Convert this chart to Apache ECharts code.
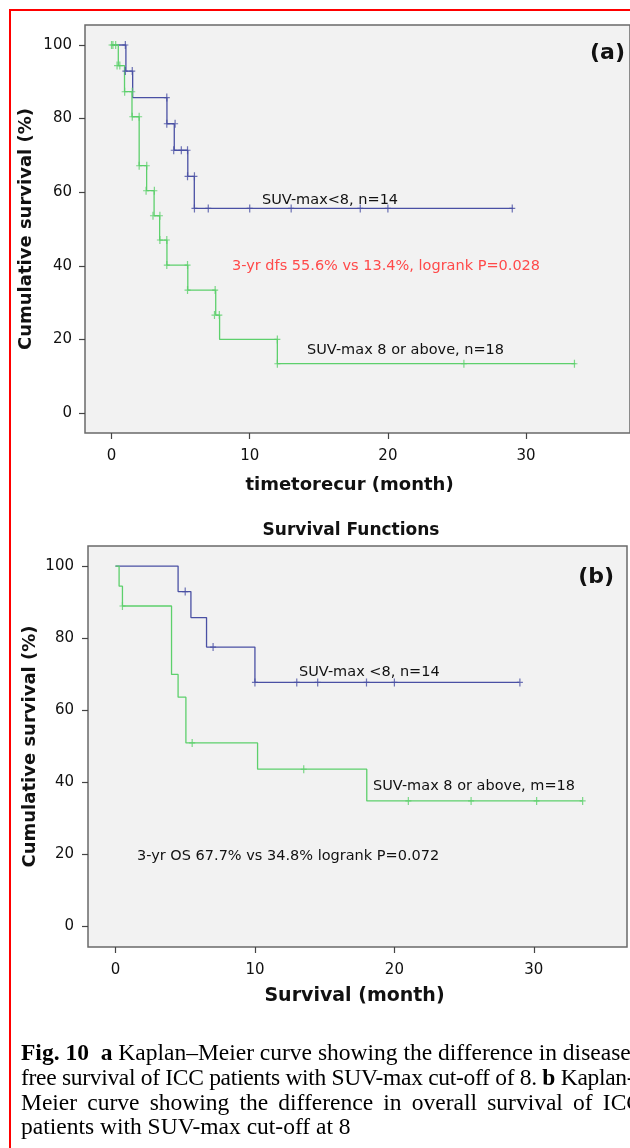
<!DOCTYPE html>
<html>
<head>
<meta charset="utf-8">
<script src="https://cdn.jsdelivr.net/npm/echarts@6/dist/echarts.min.js"></script>
<style>
  html, body { margin: 0; padding: 0; background: #fff; overflow: hidden; }
  #wrap { position: relative; width: 630px; height: 1148px; overflow: hidden; }
  #chart { position: absolute; left: 0; top: 0; width: 630px; height: 1148px; }
  #frame { position: absolute; left: 9px; top: 9px; width: 700px; height: 1200px; border: 2px solid #ff0000; box-sizing: border-box; }
  .cap { position: absolute; left: 21px; width: 621px; font-family: "Liberation Serif", "Times New Roman", serif;
         font-size: 23.5px; line-height: 25px; color: #000; white-space: nowrap; }
  .just { text-align: justify; text-align-last: justify; white-space: normal; height: 25px; overflow: hidden; }
</style>
</head>
<body>
<div id="wrap">
  <div id="frame"></div>
  <div id="chart"></div>
  <div class="cap" style="top:1040px"><b>Fig. 10</b>&nbsp; <b>a</b> Kaplan–Meier curve showing the difference in disease-</div>
  <div class="cap" style="top:1065px; width:680px; letter-spacing:-0.3px">free survival of ICC patients with SUV-max cut-off of 8. <b>b</b> Kaplan-</div>
  <div class="cap just" style="top:1090px">Meier curve showing the difference in overall survival of ICC</div>
  <div class="cap" style="top:1114px">patients with SUV-max cut-off at 8</div>
</div>
<script>
// (a) 无病生存 - SUV-max<8
const dfsLowT = [0, 1.04, 1.53, 4.01, 4.54, 5.52, 5.99, 29.06]
const dfsLowS = [100, 92.9, 85.7, 78.6, 71.4, 64.3, 55.6, 55.6]
const dfsLowCensT = [1.0, 1.0, 1.5, 4.0, 4.0, 4.6, 4.5, 5.05, 5.5, 5.5, 6.0, 6.0, 7.0, 10.0, 13.0, 18.0, 20.0, 29.0]
const dfsLowCensS = [100, 92.9, 92.9, 85.7, 78.6, 78.6, 71.4, 71.4, 71.4, 64.3, 64.3, 55.6, 55.6, 55.6, 55.6, 55.6, 55.6, 55.6]
// (a) SUV-max 8 or above
const dfsHighT = [0, 0.49, 0.94, 1.48, 2.0, 2.54, 3.08, 3.48, 4.01, 5.52, 7.54, 7.82, 12.0, 33.57]
const dfsHighS = [100, 94.4, 87.3, 80.5, 67.2, 60.4, 53.6, 47.0, 40.2, 33.4, 26.6, 20.0, 13.4, 13.4]
const dfsHighCensT = [0, 0.1, 0.3, 0.4, 0.6, 0.95, 1.5, 1.5, 2.0, 2.0, 2.55, 2.5, 3.1, 3.0, 3.5, 3.5, 4.0, 4.0, 5.5, 5.5, 7.5, 7.45, 7.8, 12.0, 12.0, 25.5, 33.5]
const dfsHighCensS = [100, 100, 100, 94.4, 94.4, 87.3, 87.3, 80.5, 80.5, 67.2, 67.2, 60.4, 60.4, 53.6, 53.6, 47.0, 47.0, 40.2, 40.2, 33.4, 33.4, 26.6, 26.6, 20.0, 13.4, 13.4, 13.4]

// (b) 总生存
const osLowT = [0, 4.49, 5.41, 6.53, 10.0, 28.97]
const osLowS = [100, 92.9, 85.7, 77.5, 67.7, 67.7]
const osLowCensT = [5.0, 7.0, 10.0, 13.0, 14.5, 18.0, 20.0, 29.0]
const osLowCensS = [92.9, 77.5, 67.7, 67.7, 67.7, 67.7, 67.7, 67.7]
const osHighT = [0, 0.26, 0.5, 4.02, 4.49, 5.05, 10.19, 18.02, 33.5]
const osHighS = [100, 94.4, 88.9, 69.9, 63.6, 50.9, 43.6, 34.8, 34.8]
const osHighCensT = [0.5, 5.5, 13.5, 21.0, 25.5, 30.2, 33.5]
const osHighCensS = [88.9, 50.9, 43.6, 34.8, 34.8, 34.8, 34.8]

const xTicks = [0, 10, 20, 30]
const yTicks = [0, 20, 40, 60, 80, 100]

const BLUE = '#4a50a4'
const GREEN = '#5dd06c'
const FONT = 'DejaVu Sans'
const PLUS = 'path://M2,0h1v3h2v1h-2v3h-1v-3h-2v-1h2z'

function zip(a, b) {
  return a.map((v, i) => [v, b[i]])
}

function stepSeries(t, s, color, idx) {
  return {
    type: 'line', step: 'end', xAxisIndex: idx, yAxisIndex: idx,
    data: zip(t, s), showSymbol: false, silent: true,
    lineStyle: { color: color, width: 1.3 }
  }
}

function censSeries(t, s, color, idx) {
  return {
    type: 'scatter', xAxisIndex: idx, yAxisIndex: idx,
    data: zip(t, s), symbol: PLUS, symbolSize: [6, 8], silent: true,
    itemStyle: { color: color }, z: 3
  }
}

function xAxisCfg(idx, min, max, name, nameSize, nameGap, pad) {
  return {
    type: 'value', gridIndex: idx, min: min, max: max,
    name: name, nameLocation: 'middle', nameGap: nameGap, nameMoveOverlap: false,
    nameTextStyle: { fontFamily: FONT, fontWeight: 'bold', fontSize: nameSize, color: '#111', padding: pad },
    axisLine: { show: false, onZero: false },
    axisTick: { show: true, inside: false, length: 6, customValues: xTicks, lineStyle: { color: '#444', width: 1.2 } },
    axisLabel: { customValues: xTicks, margin: 16, fontFamily: FONT, fontSize: 15, color: '#111' },
    splitLine: { show: false }
  }
}

function yAxisCfg(idx, min, max, margin, gap) {
  return {
    type: 'value', gridIndex: idx, min: min, max: max,
    name: 'Cumulative survival (%)', nameLocation: 'middle', nameGap: gap, nameMoveOverlap: false,
    nameTextStyle: { fontFamily: FONT, fontWeight: 'bold', fontSize: 18, color: '#111' },
    axisLine: { show: false, onZero: false },
    axisTick: { show: true, inside: false, length: 6, customValues: yTicks, lineStyle: { color: '#444', width: 1.2 } },
    axisLabel: { customValues: yTicks, margin: margin, fontFamily: FONT, fontSize: 15, color: '#111' },
    splitLine: { show: false }
  }
}

// 注释文字 (x, y 为文字左端中线)
function txt(x, y, text, opt) {
  return {
    type: 'text', x: x, y: y, silent: true,
    style: Object.assign({ text: text, fontFamily: FONT, fontSize: 14.5, fill: '#111', align: 'left', verticalAlign: 'middle' }, opt || {})
  }
}

const chart = echarts.init(document.getElementById('chart'), null, { renderer: 'canvas' })

const option = {
  backgroundColor: 'transparent',
  animation: false,
  grid: [
    { left: 85, top: 25, width: 560, height: 408, show: true, backgroundColor: '#f2f2f2', borderColor: '#6a6a6a', borderWidth: 1.5 },
    { left: 88, top: 546, width: 539, height: 401, show: true, backgroundColor: '#f2f2f2', borderColor: '#6a6a6a', borderWidth: 1.5 }
  ],
  xAxis: [
    xAxisCfg(0, -1.92, 37.52, 'timetorecur (month)', 18, 43, [0, 16, 0, 0]),
    xAxisCfg(1, -1.97, 36.68, 'Survival (month)', 19, 40, [0, 6, 0, 0])
  ],
  yAxis: [
    yAxisCfg(0, -5.43, 105.43, 13, 50),
    yAxisCfg(1, -5.75, 105.56, 14, 49)
  ],
  graphic: [
    txt(262, 200, 'SUV-max<8, n=14'),
    txt(232, 266, '3-yr dfs 55.6% vs 13.4%, logrank P=0.028', { fill: '#ff4a4a' }),
    txt(307, 350, 'SUV-max 8 or above, n=18'),
    txt(625, 53, '(a)', { fontSize: 22, fontWeight: 'bold', align: 'right' }),
    txt(351, 531, 'Survival Functions', { fontSize: 17, fontWeight: 'bold', align: 'center' }),
    txt(299, 672, 'SUV-max <8, n=14'),
    txt(373, 786, 'SUV-max 8 or above, m=18'),
    txt(137, 856, '3-yr OS 67.7% vs 34.8% logrank P=0.072'),
    txt(614, 577, '(b)', { fontSize: 22, fontWeight: 'bold', align: 'right' })
  ],
  series: [
    stepSeries(dfsLowT, dfsLowS, BLUE, 0),
    stepSeries(dfsHighT, dfsHighS, GREEN, 0),
    censSeries(dfsLowCensT, dfsLowCensS, BLUE, 0),
    censSeries(dfsHighCensT, dfsHighCensS, GREEN, 0),
    stepSeries(osLowT, osLowS, BLUE, 1),
    stepSeries(osHighT, osHighS, GREEN, 1),
    censSeries(osLowCensT, osLowCensS, BLUE, 1),
    censSeries(osHighCensT, osHighCensS, GREEN, 1)
  ]
}

chart.setOption(option)
</script>
</body>
</html>
